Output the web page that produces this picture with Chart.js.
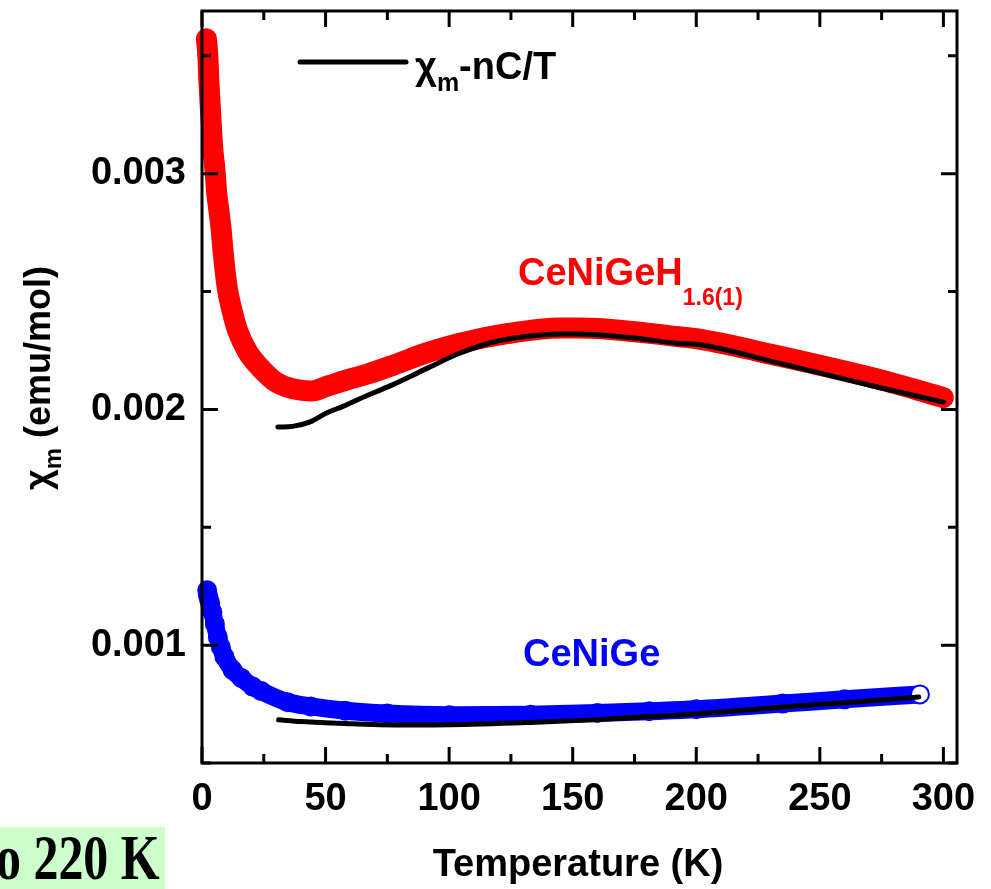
<!DOCTYPE html>
<html>
<head>
<meta charset="utf-8">
<script src="https://cdn.jsdelivr.net/npm/chart.js@4.4.1/dist/chart.umd.min.js"></script>
<style>
  html, body { margin: 0; padding: 0; background: #fff; }
  #wrap { position: relative; width: 991px; height: 889px; overflow: hidden; }
  #note { position: absolute; left: 0; top: 827px; width: 165px; height: 62px; background: #ccffcc; overflow: hidden;
          font-family: "Liberation Serif", "Times New Roman", serif; font-weight: bold; font-size: 64px; line-height: 1; white-space: nowrap; }
  #note span { position: absolute; left: -4px; top: -1px; transform: scaleX(0.78); transform-origin: 0 0; }
</style>
</head>
<body>
<div id="wrap">
  <canvas id="chart" width="991" height="889"></canvas>
  <div id="note"><span>o 220 K</span></div>
</div>
<script>
// CeNiGeH1.6(1) measured chi_m (red filled circles)
const hydT   = [1.8, 2.4, 2.8, 3.3, 3.8, 4.3, 5.0, 5.5, 5.9, 6.6, 7.2, 7.8, 8.5, 9.2, 10.3, 11.9, 14.4, 18.4, 24, 30, 37, 44, 51, 58, 67, 78, 91, 104, 124, 145, 153, 170, 193, 200, 234, 274, 300];
const hydChi = [0.003572, 0.003492, 0.00339, 0.003292, 0.003199, 0.003114, 0.003042, 0.002983, 0.002924, 0.002864, 0.002814, 0.002758, 0.002674, 0.002602, 0.002510, 0.00243, 0.002335, 0.002245, 0.002172, 0.002115, 0.002087, 0.002078, 0.0021, 0.002123, 0.00215, 0.00219, 0.00224, 0.00228, 0.002322, 0.002345, 0.002345, 0.002335, 0.002308, 0.0023, 0.002225, 0.002127, 0.00205];

// CeNiGe measured chi_m (blue open circles)
const geT   = [2.1, 2.4, 2.8, 3.3, 4.2, 5.2, 6.4, 7.6, 9.1, 12.4, 16, 20.5, 24, 34.6, 44, 58, 75, 100, 133, 160, 181, 200, 235, 260, 290.5];
const geChi = [0.001233, 0.001212, 0.001195, 0.001178, 0.00114, 0.00109, 0.001034, 0.000992, 0.00095, 0.000894, 0.00086, 0.000824, 0.000805, 0.000758, 0.00074, 0.000722, 0.00071, 0.000703, 0.000705, 0.000712, 0.00072, 0.000728, 0.000752, 0.00077, 0.000791];

// chi_m - nC/T curves (black)
const hydFitT   = [30.7, 36.6, 43.5, 50.4, 57, 63.8, 77, 91, 104, 117.6, 131, 145, 153, 173, 193, 201, 234, 274, 300];
const hydFitChi = [0.001925, 0.001928, 0.001946, 0.001985, 0.002013, 0.002045, 0.002104, 0.002174, 0.002237, 0.002285, 0.002309, 0.00232, 0.00232, 0.002305, 0.00228, 0.002275, 0.002195, 0.002093, 0.002031];
const geFitT   = [31, 40, 60, 80, 100, 133, 160, 181, 200, 235, 260, 290];
const geFitChi = [0.000683, 0.000676, 0.000666, 0.000661, 0.000662, 0.000672, 0.000684, 0.000697, 0.000708, 0.000738, 0.000756, 0.00078];

// axes
const xMin = 0, xMax = 305.5, xStep = 25, xLabelEvery = 50;
const yMin = 0.0005, yMax = 0.00369, yStep = 0.0005;

const FONT = '"Liberation Sans", Arial, sans-serif';

function pts(xs, ys) {
  return xs.map((x, i) => ({ x: x, y: ys[i] }));
}

// draw a run of text pieces, some shifted down as subscripts
function drawRich(ctx, parts, x, y) {
  parts.forEach(p => {
    ctx.font = 'bold ' + p.size + 'px ' + FONT;
    ctx.fillText(p.text, x, y + (p.dy || 0));
    x += ctx.measureText(p.text).width;
  });
  return x;
}
function richWidth(ctx, parts) {
  let w = 0;
  parts.forEach(p => {
    ctx.font = 'bold ' + p.size + 'px ' + FONT;
    w += ctx.measureText(p.text).width;
  });
  return w;
}

// box frame with inward ticks on all four sides
const framePlugin = {
  id: 'frame',
  afterDatasetsDraw(chart) {
    const ctx = chart.ctx, a = chart.chartArea;
    const xs = chart.scales.x, ys = chart.scales.y;
    ctx.save();
    ctx.strokeStyle = '#000';
    ctx.lineWidth = 3;
    ctx.strokeRect(a.left, a.top, a.right - a.left, a.bottom - a.top);
    ctx.beginPath();
    xs.ticks.forEach(t => {
      const px = xs.getPixelForValue(t.value);
      const len = Math.round(t.value) % xLabelEvery === 0 ? 16 : 9;
      ctx.moveTo(px, a.bottom); ctx.lineTo(px, a.bottom - len);
      ctx.moveTo(px, a.top); ctx.lineTo(px, a.top + len);
    });
    ys.ticks.forEach(t => {
      const py = ys.getPixelForValue(t.value);
      const len = Math.round(t.value * 10000) % 10 === 0 ? 16 : 9;
      ctx.moveTo(a.left, py); ctx.lineTo(a.left + len, py);
      ctx.moveTo(a.right, py); ctx.lineTo(a.right - len, py);
    });
    ctx.stroke();
    ctx.restore();
  }
};

// legend, curve labels and axis titles
const textPlugin = {
  id: 'texts',
  afterDraw(chart) {
    const ctx = chart.ctx;
    ctx.save();
    ctx.textAlign = 'left';
    ctx.textBaseline = 'alphabetic';

    // legend
    ctx.strokeStyle = '#000';
    ctx.lineWidth = 5;
    ctx.lineCap = 'round';
    ctx.beginPath(); ctx.moveTo(300, 62); ctx.lineTo(406, 62); ctx.stroke();
    ctx.fillStyle = '#000';
    drawRich(ctx, [{ text: 'χ', size: 38 }, { text: 'm', size: 25, dy: 12 }, { text: '-nC/T', size: 38 }], 415, 79);

    // curve labels
    ctx.fillStyle = '#ff0000';
    drawRich(ctx, [{ text: 'CeNiGeH', size: 38 }, { text: '1.6(1)', size: 23, dy: 20 }], 518, 285);
    ctx.fillStyle = '#0000ff';
    drawRich(ctx, [{ text: 'CeNiGe', size: 38 }], 523, 666);

    // x title
    ctx.fillStyle = '#000';
    ctx.font = 'bold 38px ' + FONT;
    ctx.textAlign = 'center';
    ctx.fillText('Temperature (K)', 578, 876);

    // y title, rotated
    ctx.textAlign = 'left';
    const yParts = [{ text: 'χ', size: 36 }, { text: 'm', size: 24, dy: 11 }, { text: ' (emu/mol)', size: 36 }];
    const w = richWidth(ctx, yParts);
    ctx.translate(50, 378);
    ctx.rotate(-Math.PI / 2);
    drawRich(ctx, yParts, -w / 2, 0);
    ctx.restore();
  }
};

new Chart(document.getElementById('chart'), {
  type: 'scatter',
  data: {
    datasets: [
      {
        label: 'CeNiGeH1.6(1)',
        data: pts(hydT, hydChi),
        showLine: true,
        borderColor: '#ff0000',
        borderWidth: 21,
        borderCapStyle: 'round',
        borderJoinStyle: 'round',
        cubicInterpolationMode: 'monotone',
        pointRadius: 10,
        pointBorderWidth: 0,
        pointBackgroundColor: '#ff0000',
        clip: false,
        order: 2
      },
      {
        label: 'CeNiGe',
        data: pts(geT, geChi),
        showLine: true,
        borderColor: '#0000ff',
        borderWidth: 18,
        borderCapStyle: 'round',
        borderJoinStyle: 'round',
        cubicInterpolationMode: 'monotone',
        pointRadius: 9,
        pointBorderWidth: 2,
        pointBorderColor: '#0000ff',
        pointBackgroundColor: c => c.dataIndex === geT.length - 1 ? '#ffffff' : 'rgba(0,0,0,0)',
        clip: false,
        order: 2
      },
      {
        label: 'χm-nC/T (CeNiGeH)',
        data: pts(hydFitT, hydFitChi),
        showLine: true,
        borderColor: '#000',
        borderWidth: 5,
        borderCapStyle: 'round',
        cubicInterpolationMode: 'monotone',
        pointRadius: 0,
        order: 1
      },
      {
        label: 'χm-nC/T (CeNiGe)',
        data: pts(geFitT, geFitChi),
        showLine: true,
        borderColor: '#000',
        borderWidth: 5,
        borderCapStyle: 'round',
        cubicInterpolationMode: 'monotone',
        pointRadius: 0,
        order: 1
      }
    ]
  },
  options: {
    responsive: false,
    animation: false,
    devicePixelRatio: 1,
    layout: { padding: { left: 0, top: 10, right: 34, bottom: 0 } },
    plugins: { legend: { display: false }, tooltip: { enabled: false } },
    scales: {
      x: {
        type: 'linear',
        min: xMin, max: xMax,
        grid: { display: false, drawTicks: false },
        border: { display: false },
        ticks: {
          stepSize: xStep,
          includeBounds: false,
          autoSkip: false,
          maxRotation: 0,
          padding: 14,
          color: '#000',
          font: { family: FONT, size: 38, weight: 'bold' },
          callback: v => (Math.round(v) % xLabelEvery === 0 ? String(Math.round(v)) : '')
        },
        afterFit: s => { s.height = 126; s.paddingLeft = 0; s.paddingRight = 0; }
      },
      y: {
        type: 'linear',
        min: yMin, max: yMax,
        grid: { display: false, drawTicks: false },
        border: { display: false },
        ticks: {
          stepSize: yStep,
          includeBounds: false,
          autoSkip: false,
          padding: 16,
          color: '#000',
          font: { family: FONT, size: 38, weight: 'bold' },
          callback: v => (Math.round(v * 10000) % 10 === 0 ? v.toFixed(3) : '')
        },
        afterFit: s => { s.width = 202; s.paddingTop = 0; s.paddingBottom = 0; }
      }
    }
  },
  plugins: [framePlugin, textPlugin]
});
</script>
</body>
</html>
